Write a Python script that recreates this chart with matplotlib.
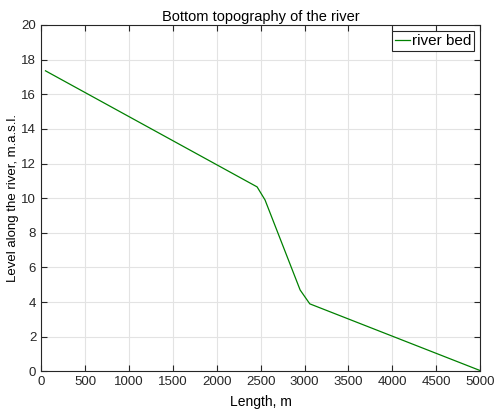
import matplotlib
matplotlib.use("Agg")
import matplotlib.pyplot as plt

plt.rcParams['font.family'] = ['Liberation Sans', 'DejaVu Sans']

# river bed profile: distance along the river (m) and bed level (m a.s.l.)
length_m = [50, 2460, 2550, 2950, 3060, 5000]
bed_level = [17.35, 10.65, 9.9, 4.7, 3.9, 0.05]

fig = plt.figure(figsize=(4.95, 4.15), dpi=100)
ax = fig.add_axes([0.083, 0.105, 0.887, 0.835])

ax.plot(length_m, bed_level, color='#008000', linewidth=0.9, label='river bed')

ax.set_xlim(0, 5000)
ax.set_ylim(0, 20)
ax.set_xticks(range(0, 5001, 500))
ax.set_yticks(range(0, 21, 2))
ax.grid(True, color='#e3e3e3', linewidth=0.8)
ax.set_axisbelow(True)

ax.tick_params(direction='in', top=True, right=True, length=4,
               labelsize=9.5, colors='#262626', width=0.8)
for sp in ax.spines.values():
    sp.set_color('#262626')
    sp.set_linewidth(0.8)

ax.set_title('Bottom topography of the river', fontsize=10.5, pad=3)
ax.set_xlabel('Length, m', fontsize=10, labelpad=5)
ax.set_ylabel('Level along the river, m.a.s.l.', fontsize=9.5, labelpad=2)

leg = ax.legend(loc='upper right', fontsize=11, handlelength=1.0, handletextpad=0.1,
                borderpad=0.2, borderaxespad=0.4, fancybox=False, framealpha=1)
leg.get_frame().set_edgecolor('#262626')
leg.get_frame().set_linewidth(0.8)

fig.savefig('out.png', dpi=100)
